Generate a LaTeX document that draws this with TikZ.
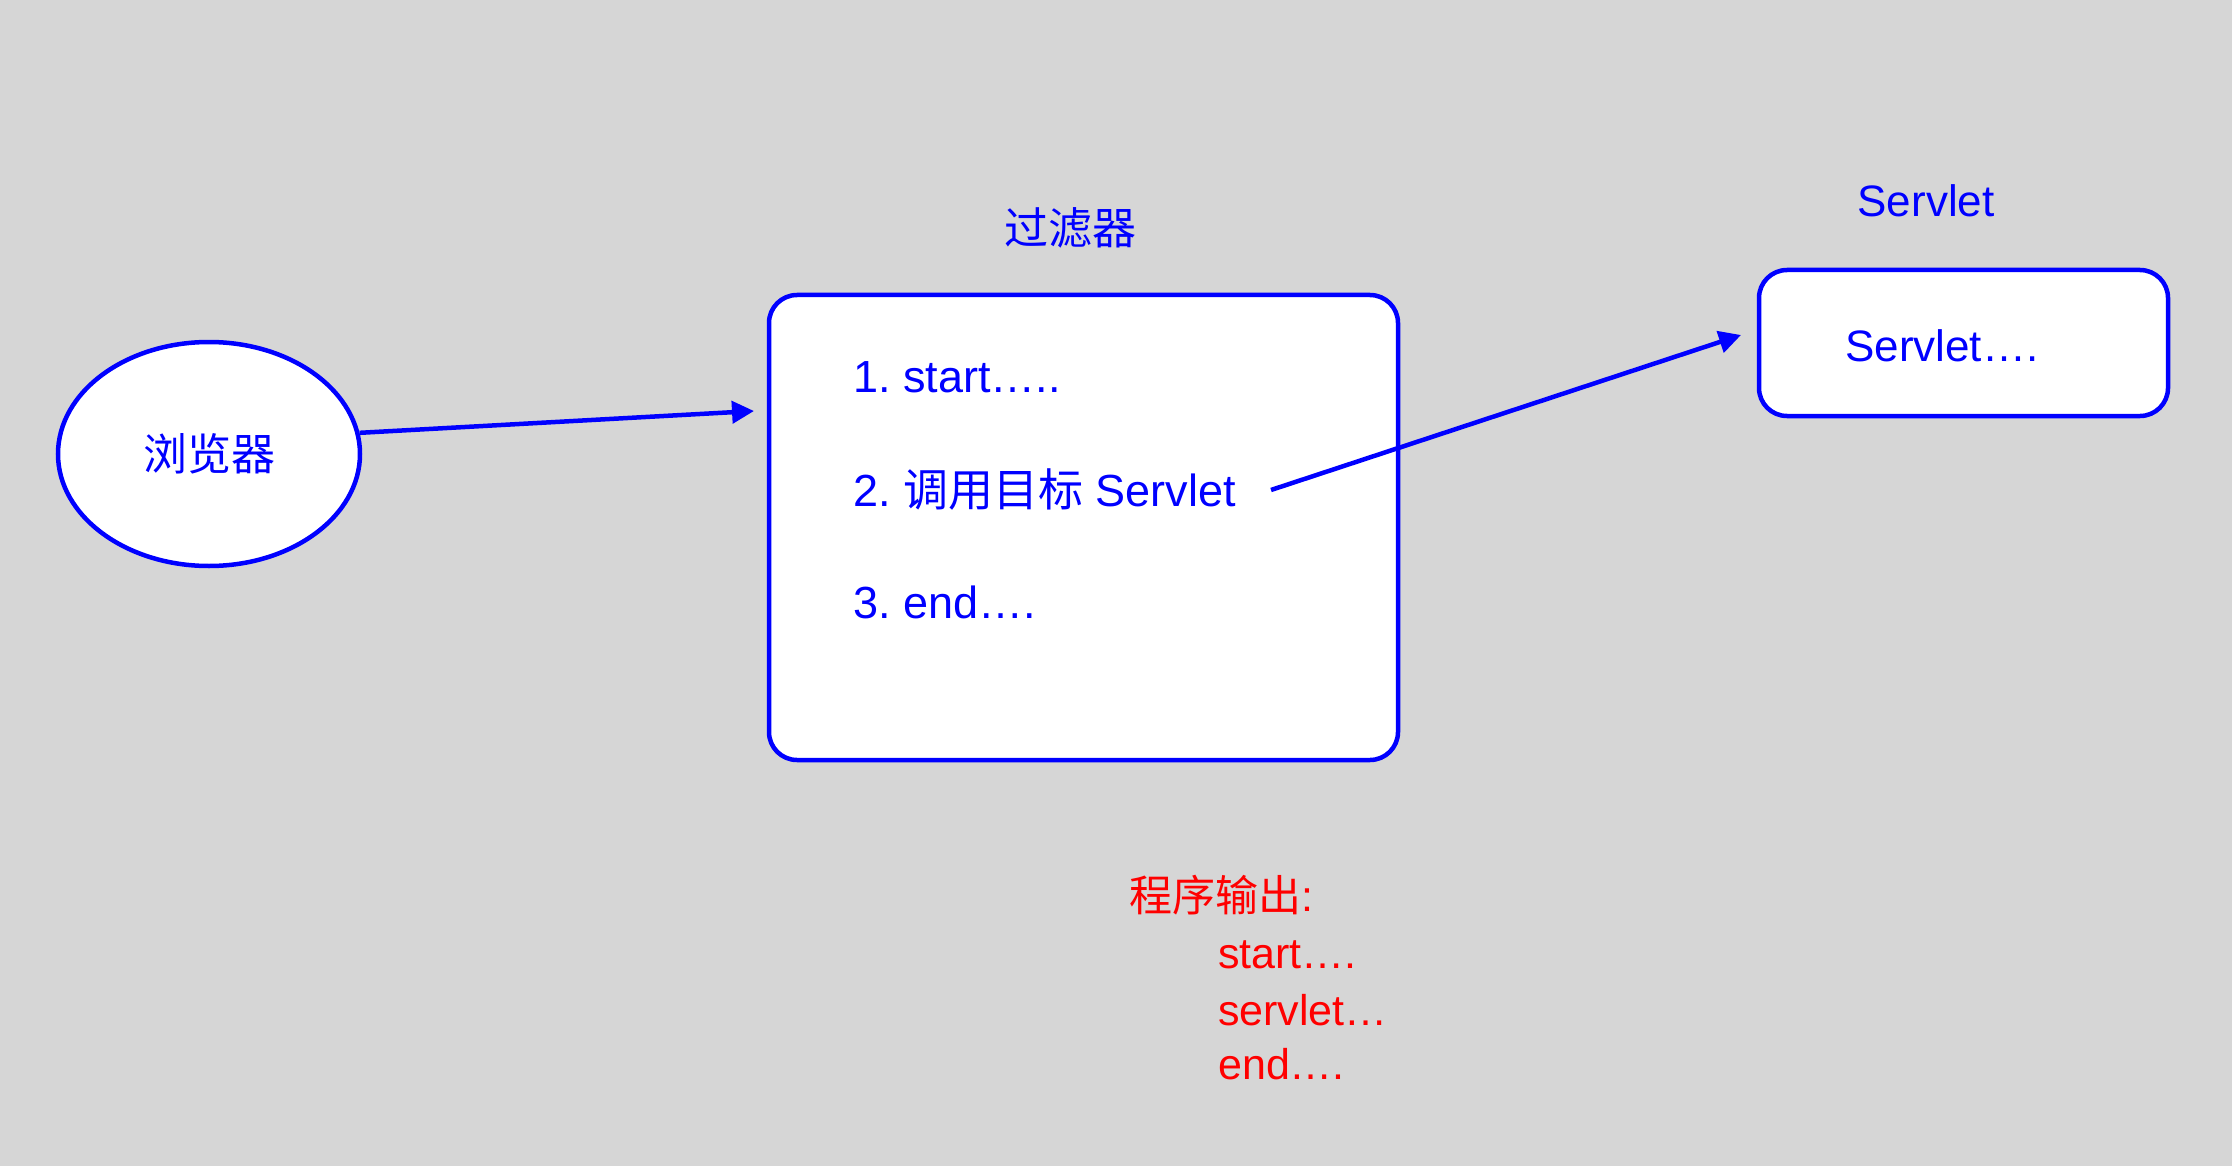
\documentclass[tikz,border=0pt]{standalone}
\usepackage{fontspec}
\setmainfont{Liberation Sans}
\newfontfamily\cjk{Noto Sans CJK SC}
\usetikzlibrary{shapes.geometric,arrows.meta}
\definecolor{bg}{RGB}{214,214,214}
\definecolor{bl}{RGB}{0,0,255}
\definecolor{rd}{RGB}{255,0,0}
\frenchspacing
\tikzset{
  box/.style={draw=bl, fill=white, line width=4.5pt, rounded corners=28pt},
  bt/.style={text=bl, font=\fontsize{44}{52}\selectfont, inner sep=0pt},
  it/.style={text=bl, font=\fontsize{45}{54}\selectfont, inner sep=0pt, anchor=west},
  rt/.style={text=rd, font=\fontsize{43}{52}\selectfont, inner sep=0pt, anchor=west},
  conn/.style={draw=bl, line width=4.5pt, -{Triangle[length=22pt,width=22pt]}},
}
\begin{document}
\begin{tikzpicture}[x=1pt,y=-1pt]
\fill[bg] (0,0) rectangle (2232,1166);
\useasboundingbox (0,0) rectangle (2232,1166);
% browser
\node[ellipse, draw=bl, fill=white, line width=4.5pt, minimum width=302pt, minimum height=224pt, inner sep=0pt] (browser) at (209,454) {};
\node[bt] (browsertxt) at (209,454) {\cjk 浏览器};
% filter
\draw[box] (769,295) rectangle (1398,760);
\node[bt] (ftitle) at (1070,228) {\cjk 过滤器};
\node[it] (f1) at (853,377) {1. start…..};
\node[it] (f2) at (853,490) {2. {\cjk 调用目标} Servlet};
\node[it] (f3) at (853,602) {3. end….};
\coordinate (fin) at (754,411);
% servlet
\draw[box] (1759,270) rectangle (2168,416);
\node[bt] (stitle) at (1926,201) {Servlet};
\node[bt, anchor=west] (s1) at (1845,346) {Servlet….};
\coordinate (a2s) at (1271,490);
\coordinate (a2e) at (1741,335);
% connectors
\draw[conn] (browser.8) -- (fin);
\draw[conn] (a2s) -- (a2e);
% output
\node[rt] (o0) at (1129,895) {{\cjk 程序输出}:};
\node[rt] (o1) at (1218,955) {start….};
\node[rt] (o2) at (1218,1010) {servlet…};
\node[rt] (o3) at (1218,1064) {end….};
\end{tikzpicture}
\end{document}
